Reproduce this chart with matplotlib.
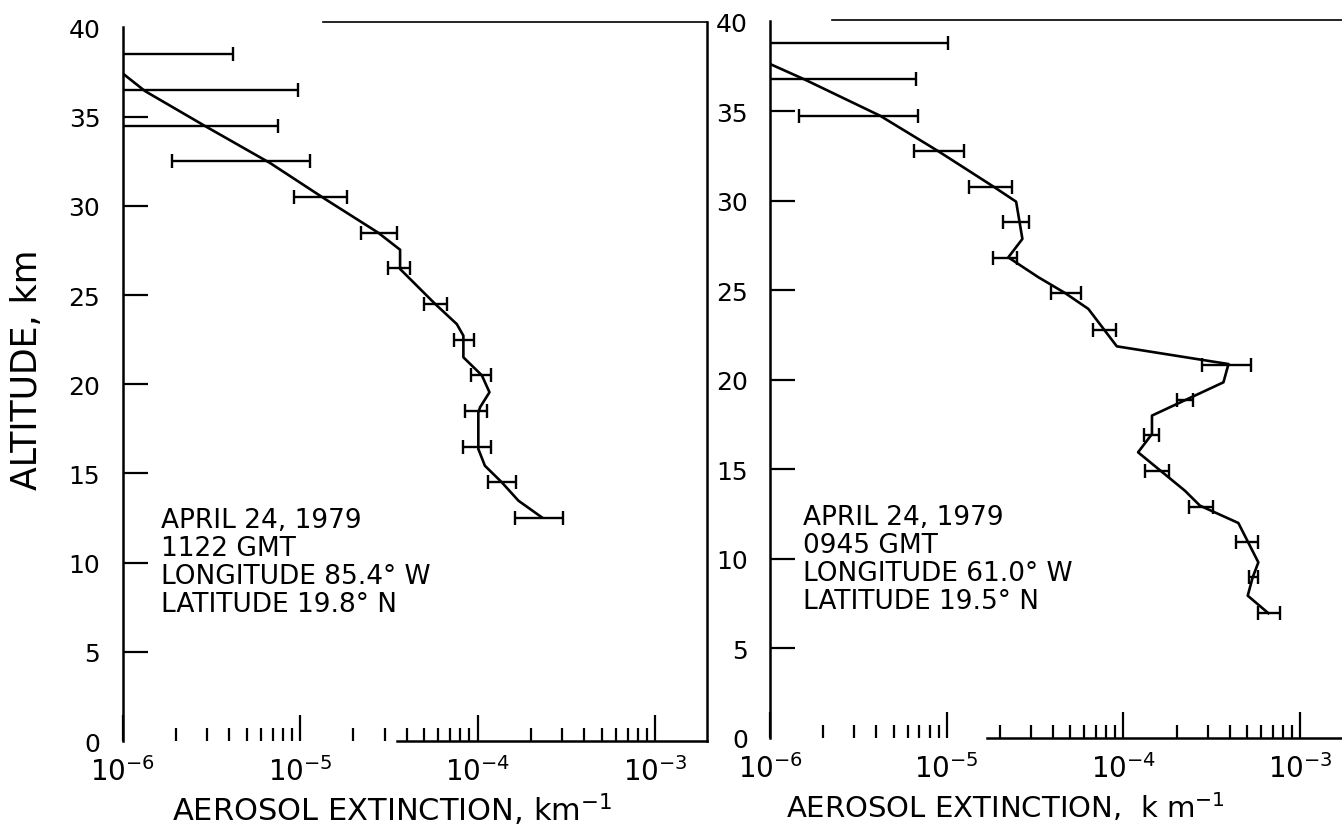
import numpy as np
import matplotlib.pyplot as plt
from matplotlib.ticker import LogLocator, NullFormatter

# ---- left panel (1122 GMT) ----
bar_alt_l = [38.5, 36.5, 34.5, 32.5, 30.5, 28.5, 26.5, 24.5, 22.5, 20.5, 18.5, 16.5, 14.5, 12.5]
bar_lo_l = [1e-7, 1e-7, 1e-7, 1.91e-6, 9.2e-6, 2.21e-5, 3.14e-5, 5.01e-5, 7.40e-5, 9.16e-5, 8.51e-5, 8.26e-5, 1.14e-4, 1.63e-4]
bar_hi_l = [4.2e-6, 9.7e-6, 7.5e-6, 1.14e-5, 1.83e-5, 3.51e-5, 4.17e-5, 6.76e-5, 9.59e-5, 1.19e-4, 1.13e-4, 1.19e-4, 1.64e-4, 3.04e-4]

prof_alt_l = [37.5, 36.43, 34.42, 32.4, 30.35, 28.5, 27.54, 26.46, 24.5, 23.37, 22.72, 21.51,
              20.5, 19.55, 18.71, 18.4, 16.37, 15.43, 14.5, 13.47, 12.54]
prof_ext_l = [0.98e-6, 1.34e-6, 2.98e-6, 6.78e-6, 1.40e-5, 2.75e-5, 3.66e-5, 3.66e-5, 5.77e-5, 7.64e-5, 8.32e-5, 8.32e-5,
              1.057e-4, 1.167e-4, 1.033e-4, 1.01e-4, 1.01e-4, 1.10e-4, 1.37e-4, 1.70e-4, 2.30e-4]

# ---- right panel (0945 GMT) ----
bar_alt_r = [38.8, 36.8, 34.75, 32.77, 30.79, 28.8, 26.79, 24.85, 22.8, 20.84, 18.89, 16.92, 14.89, 12.91, 10.92, 8.97, 6.96]
bar_lo_r = [1e-7, 1e-7, 1.46e-6, 6.53e-6, 1.34e-5, 2.09e-5, 1.82e-5, 3.88e-5, 6.70e-5, 2.80e-4, 2.00e-4, 1.31e-4, 1.33e-4, 2.35e-4, 4.31e-4, 5.16e-4, 5.80e-4]
bar_hi_r = [1.02e-5, 6.68e-6, 6.86e-6, 1.26e-5, 2.33e-5, 2.92e-5, 2.49e-5, 5.73e-5, 9.08e-5, 5.25e-4, 2.46e-4, 1.59e-4, 1.80e-4, 3.20e-4, 5.80e-4, 5.80e-4, 7.69e-4]

prof_alt_r = [37.74, 36.79, 34.75, 32.77, 30.79, 29.95, 27.87, 26.84, 25.73, 24.85, 23.96, 21.87, 20.88, 19.86,
              18.0, 16.97, 15.95, 13.80, 12.97, 12.0, 9.80, 8.97, 7.94, 6.96]
prof_ext_r = [0.95e-6, 1.56e-6, 4.20e-6, 8.96e-6, 1.84e-5, 2.47e-5, 2.68e-5, 2.23e-5, 3.30e-5, 4.67e-5, 6.33e-5, 9.17e-5, 3.93e-4, 3.68e-4,
              1.45e-4, 1.45e-4, 1.21e-4, 2.23e-4, 2.71e-4, 4.47e-4, 5.80e-4, 5.39e-4, 5.05e-4, 6.61e-4]

info_l = "APRIL 24, 1979\n1122 GMT\nLONGITUDE 85.4° W\nLATITUDE 19.8° N"
info_r = "APRIL 24, 1979\n0945 GMT\nLONGITUDE 61.0° W\nLATITUDE 19.5° N"

yticks = list(range(0, 41, 5))
xticks = [1e-6, 1e-5, 1e-4, 1e-3]
xticklabels = [r'$\mathregular{10^{-6}}$', r'$\mathregular{10^{-5}}$', r'$\mathregular{10^{-4}}$', r'$\mathregular{10^{-3}}$']

plt.rcParams['font.family'] = ['DejaVu Sans']

fig = plt.figure(figsize=(13.42, 8.29), dpi=100)
# left: y=0 at 742 px, 17.84 px/km ; right: y=0 at 738.8 px, 17.9 px/km
ax1 = fig.add_axes([0.0913, 0.1049, 0.4355, 40.3 * 17.84 / 829])
ax2 = fig.add_axes([0.5738, 0.1088, 0.4335, 40.1 * 17.9 / 829])

XMAX = 1.96e-3


def panel(ax, ymax, bar_alt, bar_lo, bar_hi, prof_alt, prof_ext, info, info_xy, top_from, bottom_from):
    ax.set_xscale('log')
    ax.set_xlim(1e-6, XMAX)
    ax.set_ylim(0, ymax)

    lo = np.array(bar_lo)
    hi = np.array(bar_hi)
    mid = np.sqrt(lo * hi)
    ax.errorbar(mid, bar_alt, xerr=[mid - lo, hi - mid], fmt='none', ecolor='black',
                elinewidth=1.7, capsize=5, capthick=1.7)
    ax.plot(prof_ext, prof_alt, color='black', lw=1.9)

    ax.text(info_xy[0], info_xy[1], info, fontsize=19, va='top', ha='left', linespacing=1.1)

    for s in ax.spines.values():
        s.set_linewidth(1.8)
    ax.spines['left'].set_bounds(0, 40.05)
    ax.spines['top'].set_bounds(top_from, XMAX)
    ax.spines['bottom'].set_bounds(bottom_from, XMAX)
    ax.spines['top'].set_linewidth(1.2)

    ax.set_xticks(xticks)
    ax.set_xticklabels(xticklabels)
    ax.xaxis.set_minor_locator(LogLocator(base=10, subs=np.arange(2, 10)))
    ax.xaxis.set_minor_formatter(NullFormatter())
    ax.set_yticks(yticks)
    ax.tick_params(axis='x', which='major', direction='in', length=19, width=1.6, labelsize=20, pad=11)
    ax.tick_params(axis='x', which='minor', direction='in', length=9.5, width=1.6)
    ax.tick_params(axis='y', direction='in', length=18, width=1.6, labelsize=18, pad=16)
    ticks = ax.yaxis.get_major_ticks()
    ticks[0].tick1line.set_visible(False)
    ticks[-1].tick1line.set_visible(False)


panel(ax1, 40.3, bar_alt_l, bar_lo_l, bar_hi_l, prof_alt_l, prof_ext_l, info_l, (1.64e-6, 13.1), 1.35e-5, 3.5e-5)
panel(ax2, 40.1, bar_alt_r, bar_lo_r, bar_hi_r, prof_alt_r, prof_ext_r, info_r, (1.53e-6, 13.06), 2.23e-6, 1.7e-5)

fig.text(27 / 1342, 1 - 370 / 829, 'ALTITUDE, km', fontsize=25, rotation=90, ha='center', va='center')

fig.text(392 / 1342, 1 - 810 / 829, r'AEROSOL EXTINCTION, km$^{\mathregular{-1}}$', fontsize=22, ha='center', va='center')
fig.text(1005 / 1342, 1 - 808 / 829, r'AEROSOL EXTINCTION,  k m$^{\mathregular{-1}}$', fontsize=21, ha='center', va='center')

fig.savefig('out.png', dpi=100)
